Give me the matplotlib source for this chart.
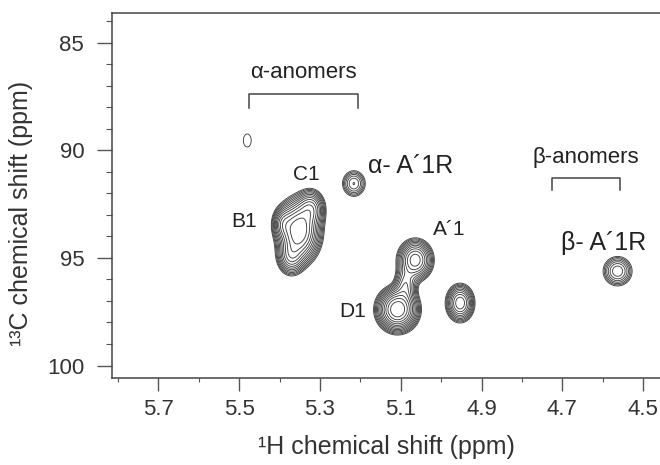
import matplotlib
matplotlib.use("Agg")
import matplotlib.pyplot as plt
import numpy as np

plt.rcParams['font.family'] = ['Liberation Sans', 'DejaVu Sans']

# cross peaks: 1H shift, 13C shift, widths (ppm), relative intensity
PEAK_H = [5.352, 5.322, 5.372, 5.392, 5.108, 5.064, 5.088, 4.953, 5.216, 4.563, 5.480]
PEAK_C = [93.75, 92.70, 94.95, 93.40, 97.40, 95.10, 96.25, 97.10, 91.55, 95.62, 89.55]
WIDTH_H = [0.026, 0.018, 0.018, 0.014, 0.025, 0.022, 0.015, 0.018, 0.0175, 0.021, 0.016]
WIDTH_C = [0.72, 0.45, 0.45, 0.40, 0.50, 0.48, 0.45, 0.45, 0.37, 0.40, 0.50]
INTENSITY = [1.0, 0.40, 0.35, 0.25, 1.0, 0.60, 0.28, 0.50, 0.22, 0.26, 0.072]

LEVEL_START = 0.06
LEVEL_FACTOR = 1.24
N_LEVELS = 13

X_TICKS = [5.7, 5.5, 5.3, 5.1, 4.9, 4.7, 4.5]
Y_TICKS = [85, 90, 95, 100]

LABELS = [("C1", 5.333, 91.15), ("B1", 5.488, 93.3),
          ("A\u00b41", 4.980, 93.7), ("D1", 5.220, 97.5)]


def spectrum(h, c):
    z = np.zeros_like(h)
    for x0, y0, wx, wy, a in zip(PEAK_H, PEAK_C, WIDTH_H, WIDTH_C, INTENSITY):
        z += a * np.exp(-0.5 * (((h - x0) / wx) ** 2 + ((c - y0) / wy) ** 2))
    return z


def main():
    fig = plt.figure(figsize=(6.6, 4.65), dpi=100)
    ax = fig.add_axes([112 / 660, 87 / 465, 548 / 660, 365 / 465])

    h = np.linspace(4.40, 5.85, 900)
    c = np.linspace(83.0, 101.0, 900)
    H, C = np.meshgrid(h, c)
    levels = LEVEL_START * LEVEL_FACTOR ** np.arange(N_LEVELS)
    ax.contour(H, C, spectrum(H, C), levels=levels, colors='#404040', linewidths=0.65)

    ax.set_xlim(5.815, 4.458)
    ax.set_ylim(100.58, 83.63)
    ax.set_xticks(X_TICKS)
    ax.set_xticks(np.arange(4.5, 5.85, 0.1), minor=True)
    ax.set_yticks(Y_TICKS)
    ax.set_yticks(np.arange(84, 101, 1), minor=True)
    ax.set_xticklabels([f"{v:.1f}" for v in X_TICKS])
    ax.tick_params(which='major', width=1, color='#555555',
                   labelsize=16, labelcolor='#333333')
    ax.xaxis.set_tick_params(which='major', length=9, pad=6)
    ax.yaxis.set_tick_params(which='major', length=11, pad=9)
    ax.xaxis.set_tick_params(which='minor', length=3, width=0.8, color='#555555')
    ax.yaxis.set_tick_params(which='minor', length=4, width=0.8, color='#555555')
    ax.spines['right'].set_visible(False)
    for s in ('left', 'bottom', 'top'):
        ax.spines[s].set_color('#444444')
        ax.spines[s].set_linewidth(1.1)

    ax.set_xlabel("\u00b9H chemical shift (ppm)", fontsize=18, color='#333333', labelpad=11)
    ax.set_ylabel("\u00b9\u00b3C chemical shift (ppm)", fontsize=18, color='#333333')
    ax.yaxis.set_label_coords(-0.145, 0.452)

    for text, x, y in LABELS:
        ax.text(x, y, text, fontsize=15, color='#222222', ha='center', va='center')
    ax.text(5.180, 90.75, "\u03b1- A\u00b41R", fontsize=18, color='#222222', ha='left', va='center')
    ax.text(4.704, 94.3, "\u03b2- A\u00b41R", fontsize=18, color='#222222', ha='left', va='center')

    # anomer brackets
    ax.text(5.342, 86.4, "\u03b1-anomers", fontsize=16, color='#222222', ha='center', va='center')
    ax.plot([5.475, 5.475, 5.207, 5.207], [88.03, 87.41, 87.41, 88.03], color='#444444', lw=1.1)
    ax.text(4.642, 90.36, "\u03b2-anomers", fontsize=16, color='#222222', ha='center', va='center')
    ax.plot([4.726, 4.726, 4.558, 4.558], [91.85, 91.31, 91.31, 91.85], color='#444444', lw=1.1)

    fig.savefig("out.png", dpi=100)


if __name__ == '__main__':
    main()
